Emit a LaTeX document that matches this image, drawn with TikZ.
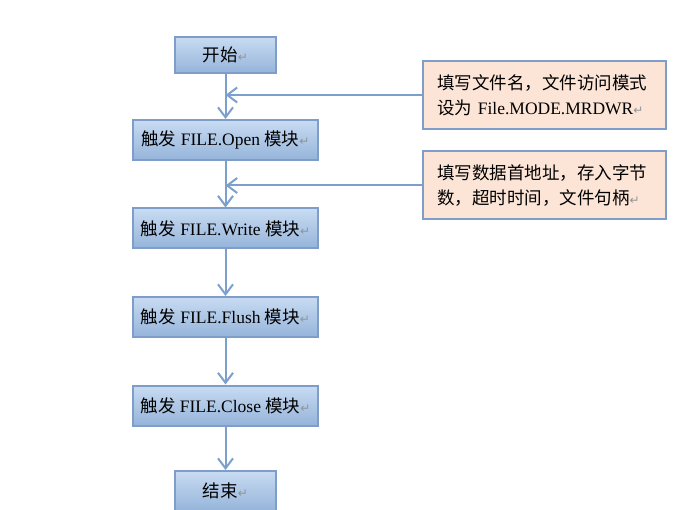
\documentclass[tikz,border=0pt]{standalone}
\usepackage{fontspec}
\setmainfont{Liberation Serif}
\newfontfamily\cjk{Noto Sans CJK SC}
\newfontfamily\marksfont{DejaVu Sans}
\usetikzlibrary{arrows.meta}
\definecolor{boxtop}{HTML}{C8DBF2}
\definecolor{boxbot}{HTML}{95B4DA}
\definecolor{boxedge}{HTML}{7F9DC9}
\definecolor{notefill}{HTML}{FCE5D7}
\definecolor{flow}{HTML}{7BA0CD}
\newcommand{\pmark}{{\marksfont\color{gray!85}\fontsize{12}{12}\selectfont ↵}}
\begin{document}
\begin{tikzpicture}[x=1pt, y=-1pt,
  >={Straight Barb[length=10pt,width=15pt,line width=2pt]},
  proc/.style={draw=boxedge, line width=2pt, top color=boxtop, bottom color=boxbot,
    minimum width=185pt, minimum height=40pt, inner sep=2pt,
    font=\fontsize{17.5}{20}\selectfont},
  note/.style={draw=boxedge, line width=2pt, fill=notefill, text width=215pt,
    minimum height=68pt, inner xsep=14pt, align=left,
    font=\fontsize{17.5}{25}\selectfont},
  flowline/.style={draw=flow, line width=2pt}]
\useasboundingbox (0,0) rectangle (692,510);
\node[proc, minimum width=101pt, minimum height=36pt] (a) at (225.5,55) {{\cjk 开始}\pmark};
\node[proc] (b) at (225.5,140) {{\cjk 触发} FILE.Open {\cjk 模块}\pmark};
\node[proc] (c) at (225.5,228.5) {{\cjk 触发} FILE.Write {\cjk 模块}\pmark};
\node[proc] (d) at (225.5,317) {{\cjk 触发} FILE.Flush {\cjk 模块}\pmark};
\node[proc] (e) at (225.5,405.5) {{\cjk 触发} FILE.Close {\cjk 模块}\pmark};
\node[proc, minimum width=101pt] (f) at (225.5,491) {{\cjk 结束}\pmark};
\node[note] (n1) at (544.5,95) {{\cjk 填写文件名，文件访问模式}\\{\cjk 设为} File.MODE.MRDWR\pmark};
\node[note] (n2) at (544.5,185.5) {{\cjk 填写数据首地址，存入字节}\\{\cjk 数，超时时间，文件句柄}\pmark};
\coordinate (t1) at (a.south |- n1.west);
\coordinate (t2) at (a.south |- n2.west);
\draw[flowline, ->] (a) -- (b);
\draw[flowline, ->] (b) -- (c);
\draw[flowline, ->] (c) -- (d);
\draw[flowline, ->] (d) -- (e);
\draw[flowline, ->] (e) -- (f);
\draw[flowline, ->] (n1) -- (t1);
\draw[flowline, ->] (n2) -- (t2);
\end{tikzpicture}
\end{document}
